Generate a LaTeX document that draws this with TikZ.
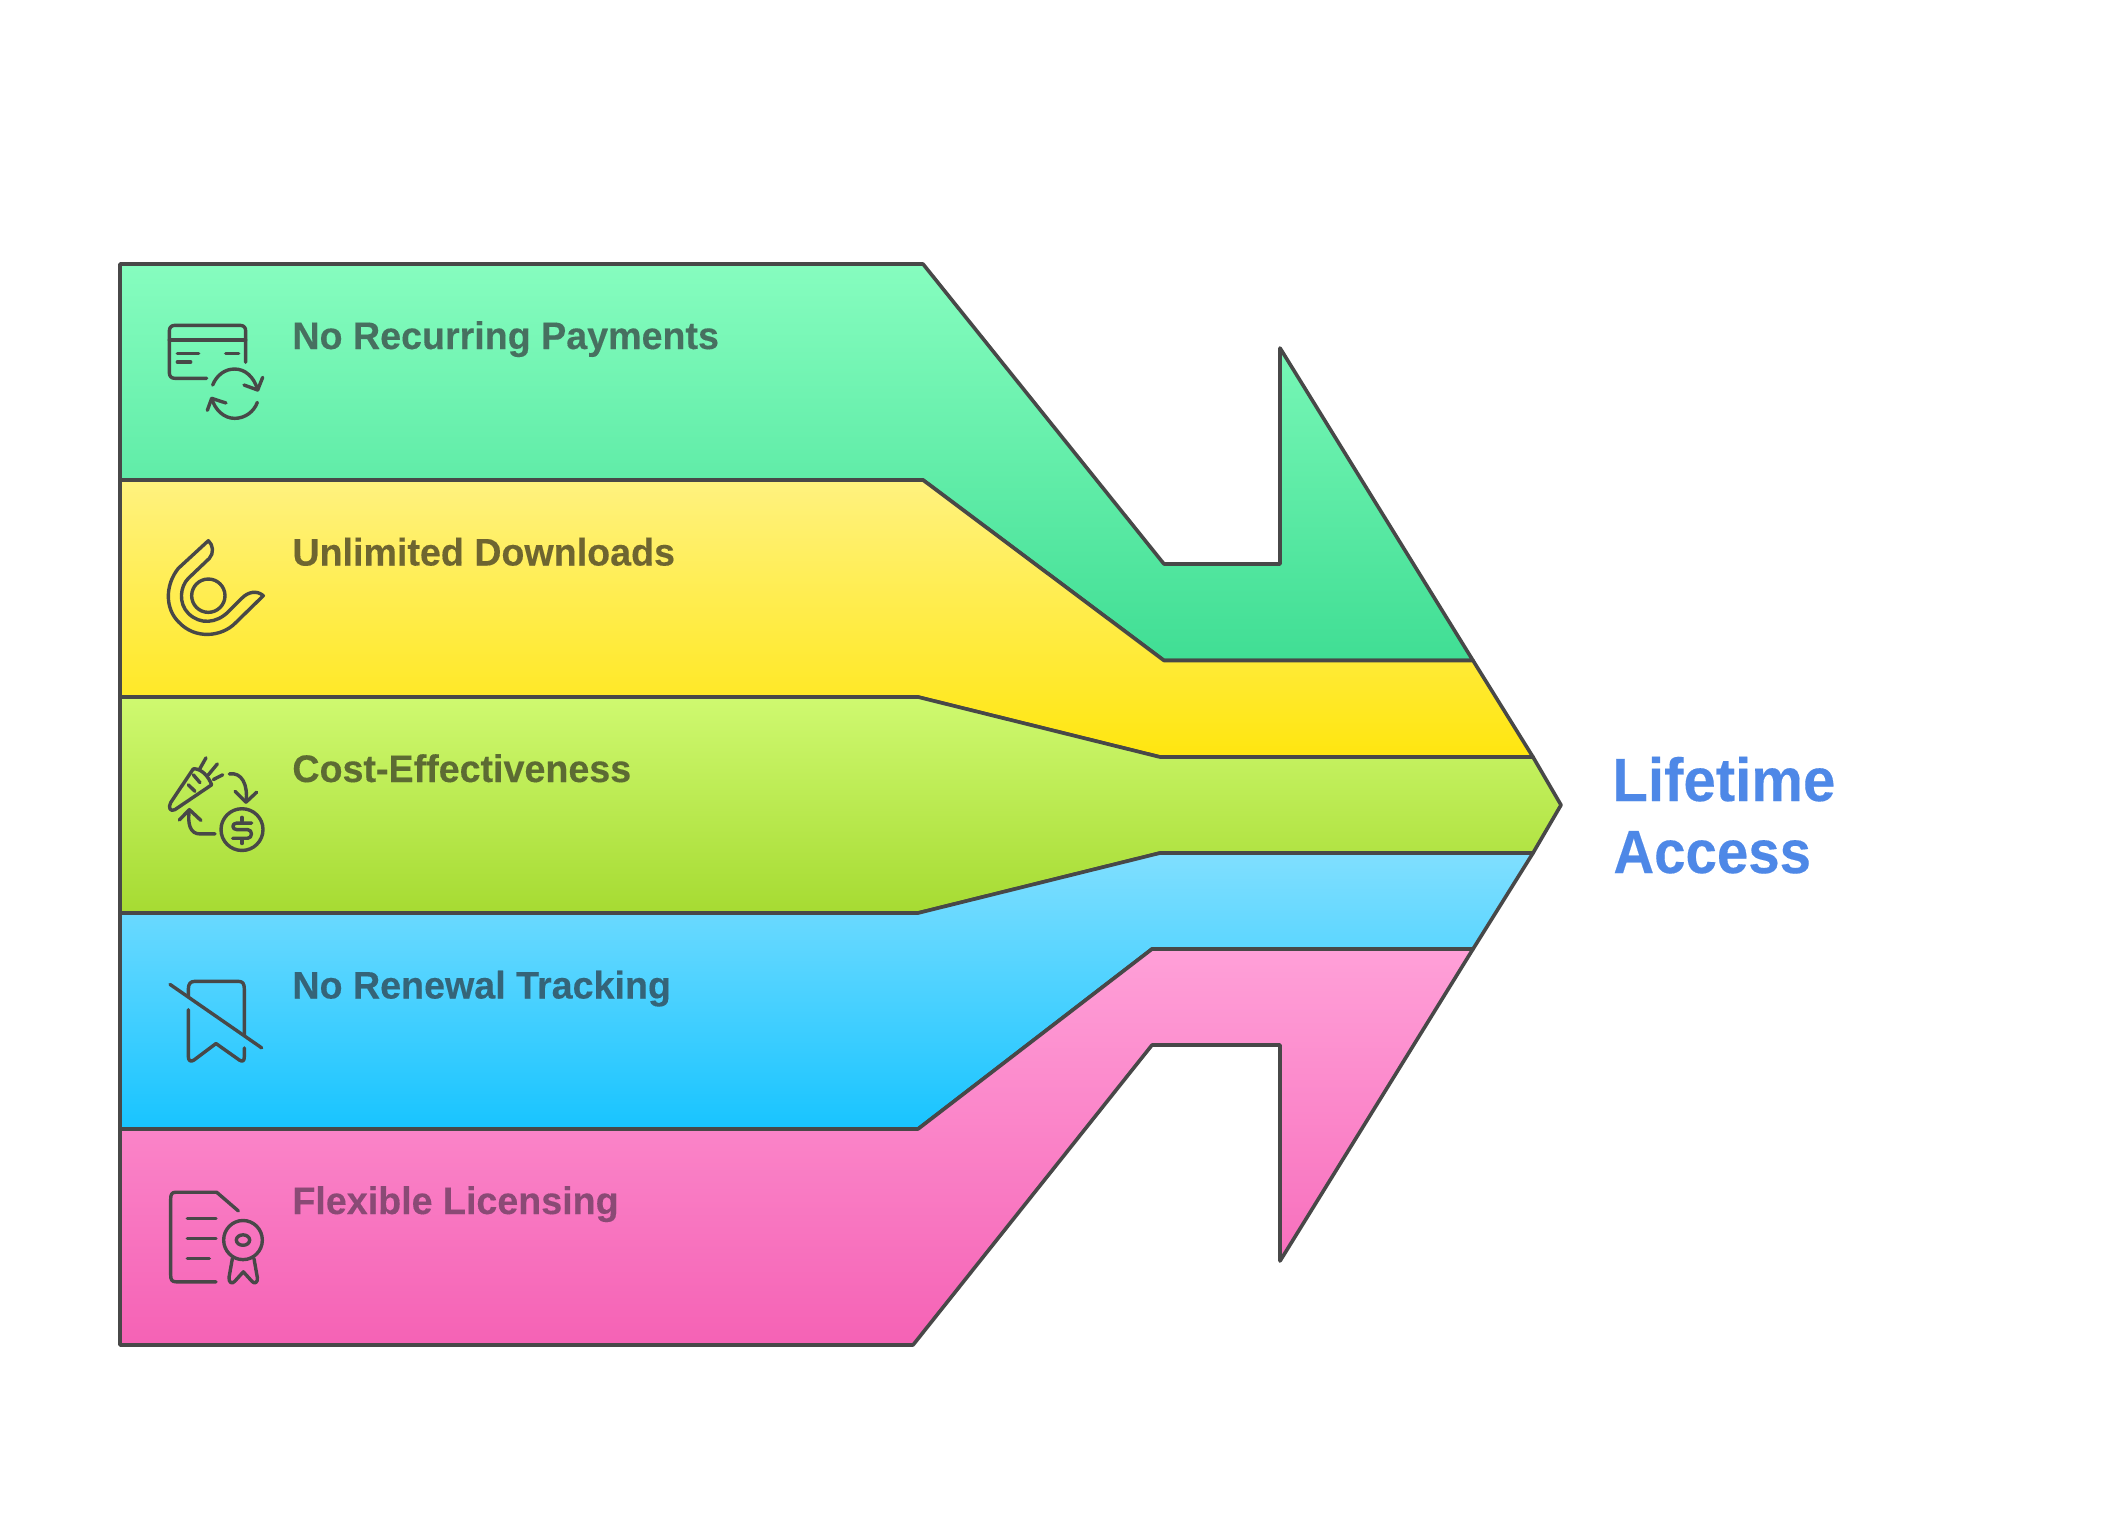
\documentclass[tikz,border=0pt]{standalone}
\usepackage{fontspec}
\setmainfont{Liberation Sans}
\newfontfamily\lblfont[FakeStretch=0.98,BoldFeatures={FakeBold=0.25}]{Liberation Sans}
\newfontfamily\lifefont[FakeStretch=0.953,BoldFeatures={FakeBold=0.25}]{Liberation Sans}
\newfontfamily\accfont[FakeStretch=0.925,BoldFeatures={FakeBold=0.25}]{Liberation Sans}
\definecolor{ln}{HTML}{484848}
\definecolor{greenA}{HTML}{86FDBF}
\definecolor{greenB}{HTML}{40DE94}
\definecolor{yellowA}{HTML}{FFF27F}
\definecolor{yellowB}{HTML}{FFE60F}
\definecolor{limeA}{HTML}{CFF970}
\definecolor{limeB}{HTML}{A6DB32}
\definecolor{blueA}{HTML}{80DFFF}
\definecolor{blueB}{HTML}{18C4FF}
\definecolor{pinkA}{HTML}{FFA0D8}
\definecolor{pinkB}{HTML}{F562B5}
\definecolor{tgreen}{HTML}{477060}
\definecolor{tyellow}{HTML}{6E6530}
\definecolor{tlime}{HTML}{5C6B33}
\definecolor{tblue}{HTML}{356478}
\definecolor{tpink}{HTML}{8A4A75}
\definecolor{tlife}{HTML}{4E88E7}
\tikzset{
  band/.style={draw=ln,line width=1.8pt,line join=round},
  icon/.style={draw=ln,line width=1.7pt,line cap=round,line join=round},
  lbl/.style={anchor=base west,inner sep=0pt,font=\lblfont\fontsize{19.2}{23}\bfseries\selectfont},
  biglbl/.style={anchor=base west,inner sep=0pt,text=tlife},
  zoomA/.style={x=.16667pt,y=-.16667pt},
  zoomB/.style={x=.16667pt,y=-.2174pt}
}
\begin{document}
\begin{tikzpicture}[x=.5pt,y=-.5pt]
\useasboundingbox[fill=white] (0,0) rectangle (2112,1512);
% bands
\draw[band,top color=greenA,bottom color=greenB] (120,264)--(923,264)--(1164,564)--(1280,564)--(1280,348)--(1473,660.5)--(1164,660.5)--(923,480)--(120,480)--cycle;
\draw[band,top color=yellowA,bottom color=yellowB] (120,480)--(923,480)--(1164,660.5)--(1473,660.5)--(1533,757)--(1160,757)--(918,697)--(120,697)--cycle;
\draw[band,top color=limeA,bottom color=limeB] (120,697)--(918,697)--(1160,757)--(1533,757)--(1561,805)--(1533,853)--(1160,853)--(918,913)--(120,913)--cycle;
\draw[band,top color=blueA,bottom color=blueB] (120,913)--(918,913)--(1160,853)--(1533,853)--(1473,949)--(1152,949)--(918,1129)--(120,1129)--cycle;
\draw[band,top color=pinkA,bottom color=pinkB] (120,1129)--(918,1129)--(1152,949)--(1473,949)--(1280,1261)--(1280,1045)--(1152,1045)--(913,1345)--(120,1345)--cycle;
% labels
\node[lbl,text=tgreen] (t1) at (292,349) {No Recurring Payments};
\node[lbl,text=tyellow] (t2) at (292,565.5) {Unlimited Downloads};
\node[lbl,text=tlime] (t3) at (292,782) {Cost-Effectiveness};
\node[lbl,text=tblue] (t4) at (292,998.5) {No Renewal Tracking};
\node[lbl,text=tpink] (t5) at (292,1214) {Flexible Licensing};
\node[biglbl,font=\lifefont\fontsize{30.5}{36}\bfseries\selectfont] (life) at (1612,801) {Lifetime};
\node[biglbl,font=\accfont\fontsize{30.5}{36}\bfseries\selectfont] (acc) at (1613,873) {Access};
% icon 1: card
\begin{scope}[shift={(100,250)},zoomA]
\draw[icon] (437,337)--(437,243) .. controls (437,232) and (431,226) .. (420,226)--(225,226) .. controls (214,226) and (208,232) .. (208,243)--(208,368) .. controls (208,379) and (214,385) .. (225,385)--(320,385);
\draw[icon] (208,270)--(437,270);
\draw[icon] (232,311)--(296,311);
\draw[icon] (232,336)--(272,336);
\draw[icon] (377,311)--(416,311);
\draw[icon] (338,405) .. controls (350,375) and (375,357) .. (404,357) .. controls (435,357) and (462,380) .. (473,420);
\draw[icon] (488,382)--(473,420)--(432,405);
\draw[icon] (472,457) .. controls (462,485) and (435,505) .. (404,505) .. controls (372,505) and (345,480) .. (335,445);
\draw[icon] (322,481)--(335,445)--(378,459);
\end{scope}
% icon 2: hand
\begin{scope}[shift={(100,250)},zoomA]
\draw[icon] (325,872) .. controls (340,885) and (342,910) .. (328,925)--(265,985) .. controls (240,1010) and (235,1060) .. (265,1090) .. controls (300,1125) and (350,1120) .. (385,1085)--(425,1045) .. controls (445,1025) and (470,1020) .. (490,1037)--(405,1120) .. controls (365,1160) and (285,1170) .. (235,1115) .. controls (195,1075) and (195,1005) .. (235,955)--cycle;
\draw[icon] (325,1037) circle[radius=50];
\end{scope}
% icon 3: carrot and coin
\begin{scope}[shift={(100,700)},zoomB]
\draw[icon] (280,158)--(212,236) .. controls (203,248) and (212,258) .. (225,252)--(335,195) .. controls (325,175) and (305,158) .. (280,158);
\draw[icon] (298,160)--(318,133);
\draw[icon] (325,172)--(352,147);
\draw[icon] (340,183)--(368,172);
\draw[icon] (280,172)--(300,190);
\draw[icon] (265,195)--(285,210);
\draw[icon] (388,170) .. controls (425,165) and (445,195) .. (438,235);
\draw[icon] (405,210)--(438,235)--(470,212);
\draw[icon] (426,298) circle[x radius=63,y radius=48];
\draw[icon] (455,283)--(410,283) .. controls (395,283) and (395,298) .. (410,298)--(443,298) .. controls (458,298) and (458,318) .. (443,318)--(398,318);
\draw[icon] (426,270)--(426,278);
\draw[icon] (426,322)--(426,330);
\draw[icon] (345,308)--(300,308) .. controls (270,308) and (262,285) .. (268,252);
\draw[icon] (238,276)--(268,252)--(303,277);
\end{scope}
% icon 4: bookmark
\begin{scope}[shift={(100,700)},zoomB]
\draw[icon] (265,682)--(265,665) .. controls (265,652) and (272,647) .. (285,647)--(415,647) .. controls (428,647) and (433,652) .. (433,665)--(433,770);
\draw[icon] (265,712)--(265,820) .. controls (265,830) and (272,833) .. (282,828)--(348,790)--(418,828) .. controls (428,833) and (433,830) .. (433,820)--(433,800);
\draw[icon] (210,654)--(485,800);
\end{scope}
% icon 5: document
\begin{scope}[shift={(100,700)},zoomB]
\draw[icon] (415,1175)--(350,1132)--(228,1132) .. controls (216,1132) and (212,1136) .. (212,1148)--(212,1322) .. controls (212,1334) and (216,1338) .. (228,1338)--(348,1338);
\draw[icon] (262,1192)--(348,1192);
\draw[icon] (262,1238)--(348,1238);
\draw[icon] (262,1284)--(328,1284);
\draw[icon] (429,1242) circle[x radius=58,y radius=45];
\draw[icon] (429,1242) circle[x radius=20,y radius=12];
\draw[icon] (397,1285)--(387,1328) .. controls (386,1340) and (396,1344) .. (404,1337)--(430,1315)--(456,1337) .. controls (464,1344) and (474,1340) .. (472,1328)--(462,1285);
\end{scope}
\end{tikzpicture}
\end{document}
